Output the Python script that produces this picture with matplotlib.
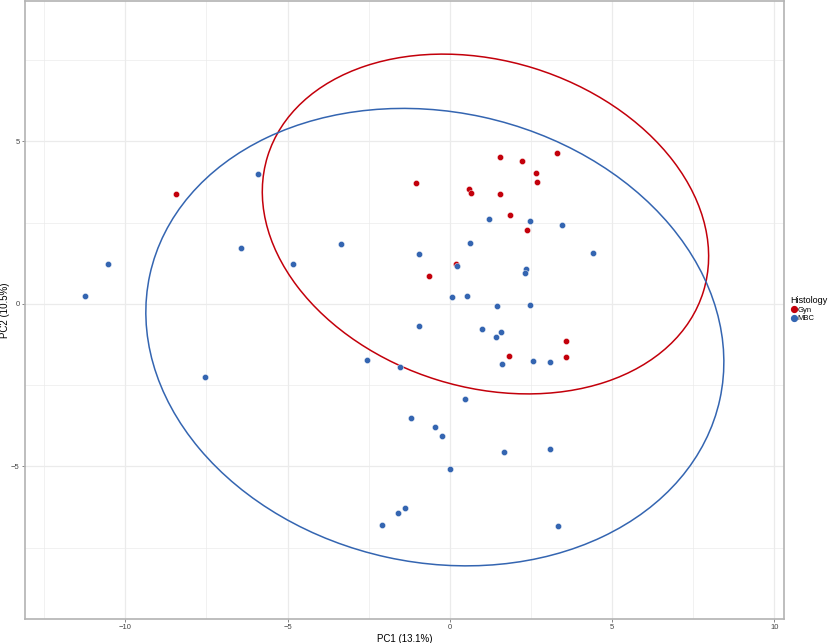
import numpy as np
import matplotlib.pyplot as plt
from matplotlib.patches import Ellipse
from matplotlib.lines import Line2D

# PCA scores
gyn_pc1 = [1.54, 2.23, 3.32, 2.67, 2.69, -1.03, 0.59, 0.65, 1.54, 1.86, 2.39,
           0.20, -0.63, 3.58, 3.58, 1.83, -8.43]
gyn_pc2 = [4.53, 4.39, 4.66, 4.03, 3.75, 3.73, 3.54, 3.40, 3.38, 2.75, 2.28,
           1.23, 0.86, -1.13, -1.62, -1.61, 3.38]

mbc_pc1 = [1.20, 2.47, 3.47, 0.62, -0.96, 4.42, 0.22, 2.35, 2.32, 0.08, 0.54,
           1.47, 2.48, -0.96, 1.00, 1.59, 1.43, 2.55, 3.08, 1.62, -1.53, 0.48,
           -1.21, -0.47, -0.23, 1.66, 3.08, 0.02, -1.38, -1.61, -2.08, 3.34,
           -2.55, -7.54, -11.25, -10.52, -5.90, -6.42, -4.84, -3.36]
mbc_pc2 = [2.60, 2.55, 2.43, 1.87, 1.55, 1.56, 1.18, 1.07, 0.94, 0.21, 0.23,
           -0.06, -0.04, -0.67, -0.76, -0.87, -1.01, -1.74, -1.78, -1.86, -1.95,
           -2.93, -3.52, -3.78, -4.07, -4.56, -4.46, -5.08, -6.28, -6.42, -6.80,
           -6.83, -1.71, -2.26, 0.25, 1.24, 3.99, 1.71, 1.24, 1.83]

# 95% ellipses (centre, full width/height, angle in degrees), estimated
groups = ["Gyn", "MBC"]
colors = ["#C3000B", "#3465B1"]
ell_center = [(1.10, 2.46), (-0.46, -1.02)]
ell_size = [(14.06, 10.04), (17.98, 13.86)]
ell_angle = [-17.2, -12.3]

plt.rcParams['font.family'] = ['Liberation Sans', 'DejaVu Sans']

fig = plt.figure(figsize=(8.29, 6.43), dpi=100)
ax = fig.add_axes([0.0298, 0.0369, 0.9159, 0.9615])

ax.set_xlim(-13.1, 10.3)
ax.set_ylim(-9.7, 9.32)

for v in np.arange(-12.5, 10.1, 2.5):
    ax.axvline(v, color='#ebebeb', lw=0.5 if v % 5 else 0.9, zorder=0)
for v in np.arange(-7.5, 9.1, 2.5):
    ax.axhline(v, color='#ebebeb', lw=0.5 if v % 5 else 0.9, zorder=0)

for i in range(2):
    e = Ellipse(ell_center[i], ell_size[i][0], ell_size[i][1], angle=ell_angle[i],
                fill=False, edgecolor=colors[i], lw=1.1, zorder=2)
    ax.add_patch(e)

ax.scatter(gyn_pc1, gyn_pc2, s=20, color=colors[0], edgecolors='white',
           linewidths=0.3, zorder=3)
ax.scatter(mbc_pc1, mbc_pc2, s=20, color=colors[1], edgecolors='white',
           linewidths=0.3, zorder=4)

ax.set_xticks([-10, -5, 0, 5, 10])
ax.set_yticks([-5, 0, 5])
ax.tick_params(labelsize=5.5, length=2, width=0.5, color='#555555',
               labelcolor='#444444', pad=1.5)
for s in ax.spines.values():
    s.set_color('#b3b3b3')
    s.set_linewidth(1.2)

ax.set_xlabel("PC1 (13.1%)", fontsize=7, labelpad=2)
ax.set_ylabel("PC2 (10.5%)", fontsize=7, labelpad=1)

handles = [Line2D([], [], marker='o', ls='', color=c, markersize=4.2) for c in colors]
leg = fig.legend(handles, groups, title="Histology", loc='upper left',
                 bbox_to_anchor=(0.949, 0.545), frameon=False, fontsize=5.5,
                 title_fontsize=6.5, handletextpad=0.1, borderpad=0,
                 labelspacing=0.15, handlelength=0.8)
leg._legend_box.align = "left"

fig.savefig("out.png", dpi=100)
